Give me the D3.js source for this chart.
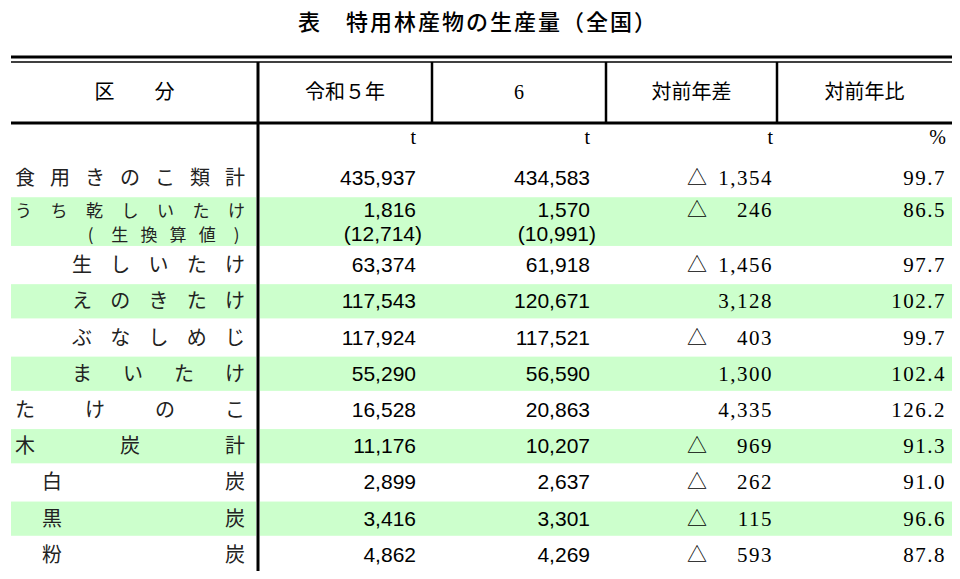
<!DOCTYPE html>
<html><head><meta charset="utf-8">
<script src="https://cdn.jsdelivr.net/npm/d3@7"></script>
<style>body{margin:0;background:#fff}</style></head>
<body><svg id="c" width="960" height="579"></svg>
<script>
const title = "表　特用林産物の生産量（全国）";
const headers = ["区　　分", "令和５年", "6", "対前年差", "対前年比"];
const units = ["", "t", "t", "t", "%"];
const labels = ["食用きのこ類計", "うち乾しいたけ", "生しいたけ", "えのきたけ", "ぶなしめじ", "まいたけ", "たけのこ", "木炭計", "白炭", "黒炭", "粉炭"];
const subLabel = "(生換算値)";
const indent = [0, 0, 1, 1, 1, 1, 0, 0, 2, 2, 2];
const r5 = ["435,937", "1,816", "63,374", "117,543", "117,924", "55,290", "16,528", "11,176", "2,899", "3,416", "4,862"];
const r5sub = "(12,714)";
const r6 = ["434,583", "1,570", "61,918", "120,671", "117,521", "56,590", "20,863", "10,207", "2,637", "3,301", "4,269"];
const r6sub = "(10,991)";
const diffNeg = [true, true, true, false, true, false, false, true, true, true, true];
const diff = ["1,354", "246", "1,456", "3,128", "403", "1,300", "4,335", "969", "262", "115", "593"];
const ratio = ["99.7", "86.5", "97.7", "102.7", "99.7", "102.4", "126.2", "91.3", "91.0", "96.6", "87.8"];
const shaded = [false, true, false, true, false, true, false, true, false, true, false];

const svg = d3.select("#c");
const jp = "'Noto Sans CJK JP', sans-serif";
svg.append("text").attr("x", 478).attr("y", 30).attr("text-anchor", "middle")
  .attr("font-family", jp).attr("font-weight", 500).attr("font-size", 22).attr("letter-spacing", 2).text(title);

const L = 11, R = 952;
const colEdges = [L, 258, 432, 606, 777, R];
const weights = labels.map((d, i) => i === 1 ? 1.4 : 1);
const cum = [0]; weights.forEach(w => cum.push(cum[cum.length - 1] + w));
const y = d3.scaleLinear().domain([0, cum[cum.length - 1]]).range([160, 573]);

labels.forEach((d, i) => {
  if (!shaded[i]) return;
  const y0 = y(cum[i]) + 1, y1 = y(cum[i + 1]) - 1;
  svg.append("rect").attr("x", L).attr("y", y0).attr("width", 256 - L).attr("height", y1 - y0).attr("fill", "#ccffcc");
  svg.append("rect").attr("x", 260).attr("y", y0).attr("width", R - 260).attr("height", y1 - y0).attr("fill", "#ccffcc");
});

svg.append("line").attr("x1", L).attr("x2", R).attr("y1", 57).attr("y2", 57).attr("stroke", "#000").attr("stroke-width", 3);
svg.append("line").attr("x1", L).attr("x2", R).attr("y1", 62).attr("y2", 62).attr("stroke", "#000").attr("stroke-width", 1.5);
svg.append("line").attr("x1", L).attr("x2", R).attr("y1", 123).attr("y2", 123).attr("stroke", "#000").attr("stroke-width", 3);
svg.append("line").attr("x1", 258).attr("x2", 258).attr("y1", 62).attr("y2", 571).attr("stroke", "#000").attr("stroke-width", 3);
[432, 606, 777].forEach(x => svg.append("line").attr("x1", x).attr("x2", x).attr("y1", 62).attr("y2", 123).attr("stroke", "#000").attr("stroke-width", 2.5));

headers.forEach((h, i) => {
  const cx = (colEdges[i] + colEdges[i + 1]) / 2;
  svg.append("text").attr("x", cx).attr("y", 99).attr("text-anchor", "middle")
    .attr("font-family", i === 2 ? "'Liberation Serif', serif" : jp).attr("font-size", 20).attr("xml:space", "preserve").text(h);
});
const rightX = [0, 416, 590, 773, 946];
units.forEach((u, i) => {
  if (!u) return;
  svg.append("text").attr("x", rightX[i]).attr("y", 144).attr("text-anchor", "end")
    .attr("font-family", "'Liberation Serif', serif").attr("font-size", 20).text(u);
});

function spaced(str, x0, x1, yy, fs) {
  const chars = Array.from(str);
  const step = (x1 - x0 - fs) / (chars.length - 1);
  chars.forEach((c, k) => {
    svg.append("text").attr("x", x0 + k * step + fs / 2).attr("y", yy).attr("text-anchor", "middle")
      .attr("font-family", jp).attr("font-size", fs).attr("fill", "#222").text(c);
  });
}
const startX = [15, 72, 42];
const sans = "'Liberation Sans', Arial, sans-serif", serif = "'Liberation Serif', serif";
labels.forEach((lab, i) => {
  const c = (y(cum[i]) + y(cum[i + 1])) / 2;
  const two = i === 1;
  const yA = two ? c - 12 : c, base = 7;
  spaced(lab, startX[indent[i]], 245, yA + base, two ? 17 : 20);
  if (two) spaced(subLabel, 82, 245, c + 12 + base, 17);
  svg.append("text").attr("x", 416).attr("y", yA + base).attr("text-anchor", "end").attr("font-family", sans).attr("font-size", 21).text(r5[i]);
  svg.append("text").attr("x", 590).attr("y", yA + base).attr("text-anchor", "end").attr("font-family", sans).attr("font-size", 21).text(r6[i]);
  if (two) {
    svg.append("text").attr("x", 422).attr("y", c + 12 + base).attr("text-anchor", "end").attr("font-family", sans).attr("font-size", 21).text(r5sub);
    svg.append("text").attr("x", 596).attr("y", c + 12 + base).attr("text-anchor", "end").attr("font-family", sans).attr("font-size", 21).text(r6sub);
  }
  if (diffNeg[i]) svg.append("text").attr("x", 697).attr("y", yA + base).attr("text-anchor", "middle").attr("font-family", jp).attr("font-size", 20).text("△");
  svg.append("text").attr("x", 773).attr("y", yA + base).attr("text-anchor", "end").attr("font-family", serif).attr("font-size", 21).attr("letter-spacing", 1.5).text(diff[i]);
  svg.append("text").attr("x", 946).attr("y", yA + base).attr("text-anchor", "end").attr("font-family", serif).attr("font-size", 21).attr("letter-spacing", 1.5).text(ratio[i]);
});
</script></body></html>
